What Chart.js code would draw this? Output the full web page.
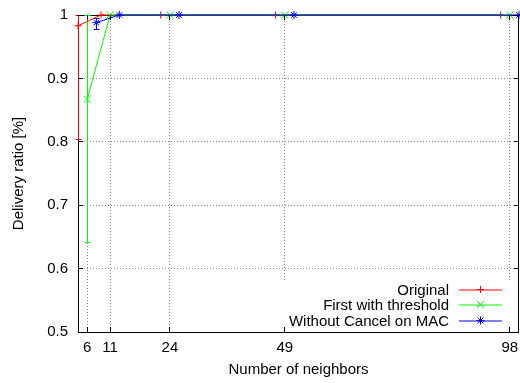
<!DOCTYPE html>
<html>
<head>
<meta charset="utf-8">
<script src="https://cdn.jsdelivr.net/npm/chart.js@4"></script>
<style>
body { margin: 0; background: #fff; }
canvas { display: block; }
</style>
</head>
<body>
<canvas id="chart" width="520" height="383" style="width:520px;height:383px"></canvas>
<script>
var xTicks = [6, 11, 24, 49, 98];
var yTicks = [0.5, 0.6, 0.7, 0.8, 0.9, 1];

var seriesLabels = ["Original", "First with threshold", "Without Cancel on MAC"];
var seriesColors = ['#ff0000', '#00ff00', '#0000ff'];

// points are shifted a bit left/right of the tick, like in the original plot
var originalX = [4, 9, 22, 47, 96];
var originalY = [0.983, 1, 1, 1, 1];
var originalLow = [0.803, 1, 1, 1, 1];
var originalHigh = [1, 1, 1, 1, 1];

var thresholdX = [6, 11, 24, 49, 98];
var thresholdY = [0.867, 1, 1, 1, 1];
var thresholdLow = [0.641, 1, 1, 1, 1];
var thresholdHigh = [1, 1, 1, 1, 1];

var noCancelX = [8, 13, 26, 51, 100];
var noCancelY = [0.988, 1, 1, 1, 1];
var noCancelLow = [0.977, 1, 1, 1, 1];
var noCancelHigh = [0.994, 1, 1, 1, 1];

var fontFamily = "'Liberation Sans', Arial, Helvetica, sans-serif";

function toPoints(xs, ys) {
    return xs.map(function(x, i) { return {x: x, y: ys[i]}; });
}

function makeDataset(label, xs, ys, low, high, color, style, radius, order) {
    return {
        label: label,
        data: toPoints(xs, ys),
        errLow: low,
        errHigh: high,
        showLine: true,
        borderColor: color,
        backgroundColor: color,
        borderWidth: 1,
        pointStyle: style,
        pointRadius: radius,
        pointBorderWidth: 1,
        pointBorderColor: color,
        order: order,
        clip: false
    };
}

function snap(v) { return Math.round(v - 0.5) + 0.5; } // same as chart.js grid alignment

function drawMarker(ctx, style, radius, x, y) {
    if (Chart.helpers && Chart.helpers.drawPoint) {
        Chart.helpers.drawPoint(ctx, {pointStyle: style, radius: radius, rotation: 0, borderWidth: 1}, x, y);
    }
}

var errorBars = {
    id: 'errorBars',
    beforeDatasetsDraw: function(chart) {
        var ctx = chart.ctx, xs = chart.scales.x, ys = chart.scales.y, a = chart.chartArea;
        // frame
        ctx.save();
        ctx.strokeStyle = '#000';
        ctx.lineWidth = 1;
        ctx.strokeRect(snap(a.left), snap(a.top), snap(a.right) - snap(a.left) - 1, snap(a.bottom) - snap(a.top));
        ctx.restore();
        chart.data.datasets.forEach(function(ds, k) {
            ctx.save();
            ctx.strokeStyle = seriesColors[k];
            ctx.lineWidth = 1;
            ds.data.forEach(function(p, i) {
                var lo = ys.getPixelForValue(ds.errLow[i]);
                var hi = ys.getPixelForValue(ds.errHigh[i]);
                if (Math.abs(lo - hi) < 1) return;
                var px = snap(xs.getPixelForValue(p.x));
                lo = snap(lo);
                hi = snap(hi);
                ctx.beginPath();
                ctx.moveTo(px, lo); ctx.lineTo(px, hi);
                ctx.moveTo(px - 3, lo); ctx.lineTo(px + 3, lo);
                ctx.moveTo(px - 3, hi); ctx.lineTo(px + 3, hi);
                ctx.stroke();
            });
            ctx.restore();
        });
    },
    afterDatasetsDraw: function(chart) {
        var ctx = chart.ctx, a = chart.chartArea, xs = chart.scales.x, ys = chart.scales.y;
        ctx.save();
        // key box (opaque, hides grid)
        ctx.fillStyle = '#fff';
        ctx.fillRect(a.right - 236, a.bottom - 51, 234, 50);
        ctx.font = '15px ' + fontFamily;
        ctx.textAlign = 'right';
        ctx.textBaseline = 'middle';
        var rows = [a.bottom - 43, a.bottom - 28, a.bottom - 12];
        chart.data.datasets.forEach(function(ds, i) {
            var y = snap(rows[i]);
            ctx.fillStyle = '#000';
            ctx.fillText(ds.label, a.right - 70, y + 1);
            ctx.save();
            ctx.strokeStyle = seriesColors[i];
            ctx.fillStyle = seriesColors[i];
            ctx.lineWidth = 1;
            ctx.beginPath();
            ctx.moveTo(a.right - 60, y + 0.5); // soft 2px sample line like the original key
            ctx.lineTo(a.right - 17, y + 0.5);
            ctx.stroke();
            drawMarker(ctx, ds.pointStyle, ds.pointRadius, snap(a.right - 39), y);
            ctx.restore();
        });
        // inward ticks on all four sides
        ctx.strokeStyle = '#000';
        ctx.lineWidth = 1;
        ctx.beginPath();
        xTicks.forEach(function(v) {
            var px = snap(xs.getPixelForValue(v));
            ctx.moveTo(px, a.bottom); ctx.lineTo(px, a.bottom - 5);
            ctx.moveTo(px, a.top); ctx.lineTo(px, a.top + 5);
        });
        yTicks.forEach(function(v) {
            var py = snap(ys.getPixelForValue(v));
            ctx.moveTo(a.left, py); ctx.lineTo(a.left + 5, py);
            ctx.moveTo(a.right, py); ctx.lineTo(a.right - 5, py);
        });
        ctx.stroke();
        ctx.restore();
    }
};

var ctx = document.getElementById('chart');
var myChart = new Chart(ctx, {
    type: 'scatter',
    data: {
        datasets: [
            makeDataset(seriesLabels[0], originalX, originalY, originalLow, originalHigh, seriesColors[0], 'cross', 3.5, 3),
            makeDataset(seriesLabels[1], thresholdX, thresholdY, thresholdLow, thresholdHigh, seriesColors[1], 'crossRot', 5, 2),
            makeDataset(seriesLabels[2], noCancelX, noCancelY, noCancelLow, noCancelHigh, seriesColors[2], 'star', 4, 1)
        ]
    },
    options: {
        responsive: false,
        animation: false,
        layout: { autoPadding: false, padding: { top: 15, right: 1, left: 0, bottom: 0 } },
        plugins: { legend: { display: false }, tooltip: { enabled: false } },
        scales: {
            x: {
                type: 'linear',
                min: 4,
                max: 100,
                afterBuildTicks: function(scale) { scale.ticks = xTicks.map(function(v) { return {value: v}; }); },
                afterFit: function(scale) {
                    scale.height = 51;
                    scale.paddingLeft = 0;
                    scale.paddingRight = 0;
                },
                border: { display: false, dash: [1, 2] },
                grid: { color: 'rgba(0,0,0,0.45)', drawTicks: false },
                ticks: {
                    autoSkip: false, maxRotation: 0, padding: 7, color: '#000',
                    font: { family: fontFamily, size: 15 },
                    callback: function(v) { return String(v); }
                },
                title: {
                    display: true, text: 'Number of neighbors', color: '#000',
                    font: { family: fontFamily, size: 15 },
                    padding: { top: 0, bottom: 4 }
                }
            },
            y: {
                min: 0.5,
                max: 1,
                afterBuildTicks: function(scale) { scale.ticks = yTicks.map(function(v) { return {value: v}; }); },
                afterFit: function(scale) {
                    scale.width = 78;
                    scale.paddingTop = 0;
                    scale.paddingBottom = 0;
                },
                border: { display: false, dash: [1, 2] },
                grid: { color: 'rgba(0,0,0,0.45)', drawTicks: false },
                ticks: {
                    autoSkip: false, padding: 10, color: '#000',
                    font: { family: fontFamily, size: 15 },
                    callback: function(v) { return String(v); }
                },
                title: {
                    display: true, text: 'Delivery ratio [%]', color: '#000',
                    font: { family: fontFamily, size: 15 },
                    padding: { top: 10, bottom: 0 }
                }
            }
        }
    },
    plugins: [errorBars]
});
</script>
</body>
</html>
